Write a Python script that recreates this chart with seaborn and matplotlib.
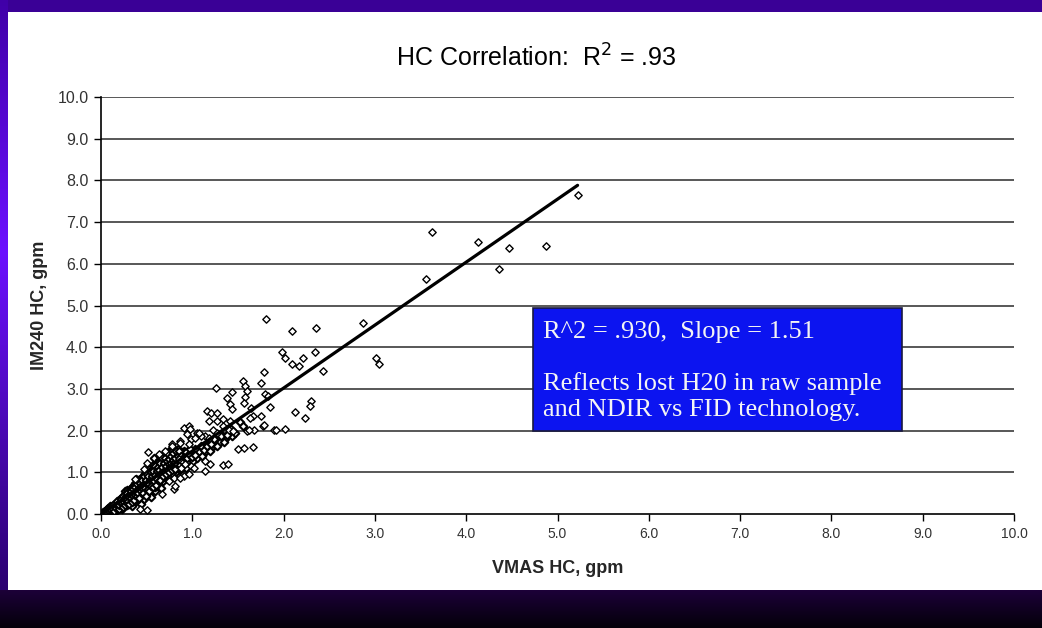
import numpy as np
import pandas as pd
import matplotlib.pyplot as plt
import seaborn as sns
from matplotlib.patches import Rectangle

# Data (VMAS HC, IM240 HC), gpm
core_points = [
    (0.02, 0.02), (0.03, 0.05), (0.04, 0.03), (0.05, 0.08), (0.06, 0.04), (0.07, 0.10), (0.08, 0.06),
    (0.09, 0.13), (0.10, 0.08), (0.05, 0.01), (0.08, 0.15), (0.10, 0.18),
    (0.11, 0.12), (0.12, 0.20), (0.13, 0.09), (0.14, 0.16), (0.15, 0.24), (0.15, 0.11), (0.16, 0.19),
    (0.17, 0.28), (0.18, 0.14), (0.18, 0.22), (0.19, 0.31), (0.20, 0.17), (0.20, 0.26), (0.12, 0.05), (0.16, 0.07),
    (0.21, 0.35), (0.22, 0.21), (0.22, 0.29), (0.23, 0.40), (0.24, 0.25), (0.24, 0.33), (0.25, 0.18),
    (0.25, 0.44), (0.26, 0.30), (0.27, 0.37), (0.27, 0.50), (0.28, 0.22), (0.28, 0.42), (0.29, 0.33),
    (0.30, 0.47), (0.30, 0.27), (0.23, 0.12), (0.26, 0.55), (0.29, 0.58),
    (0.31, 0.38), (0.32, 0.52), (0.32, 0.30), (0.33, 0.44), (0.33, 0.62), (0.34, 0.35), (0.35, 0.49),
    (0.35, 0.68), (0.36, 0.40), (0.36, 0.57), (0.37, 0.28), (0.37, 0.74), (0.38, 0.46), (0.38, 0.62),
    (0.39, 0.53), (0.39, 0.36), (0.40, 0.70), (0.40, 0.48), (0.34, 0.20), (0.38, 0.84),
    (0.41, 0.58), (0.41, 0.40), (0.42, 0.77), (0.42, 0.52), (0.43, 0.64), (0.43, 0.33), (0.44, 0.86),
    (0.44, 0.47), (0.45, 0.72), (0.45, 0.57), (0.46, 0.92), (0.46, 0.43), (0.47, 0.66), (0.47, 0.80),
    (0.48, 0.52), (0.48, 0.98), (0.49, 0.61), (0.49, 0.75), (0.50, 0.88), (0.50, 0.46), (0.44, 0.25), (0.47, 0.35),
    (0.51, 0.70), (0.51, 1.02), (0.52, 0.56), (0.52, 0.82), (0.53, 0.95), (0.53, 0.64), (0.54, 0.50),
    (0.54, 1.10), (0.55, 0.76), (0.55, 0.88), (0.56, 0.60), (0.56, 1.00), (0.57, 0.84), (0.57, 1.18),
    (0.58, 0.70), (0.58, 0.94), (0.59, 1.05), (0.59, 0.55), (0.60, 0.80), (0.60, 1.25), (0.55, 0.40), (0.58, 1.35),
    (0.61, 0.92), (0.61, 1.12), (0.62, 0.68), (0.62, 1.02), (0.63, 0.86), (0.63, 1.30), (0.64, 1.16),
    (0.64, 0.74), (0.65, 0.98), (0.65, 1.40), (0.66, 1.08), (0.66, 0.62), (0.67, 0.90), (0.67, 1.22),
    (0.68, 1.02), (0.68, 0.78), (0.69, 1.32), (0.69, 1.14), (0.70, 0.96), (0.70, 1.45),
    (0.71, 1.06), (0.71, 1.24), (0.72, 0.84), (0.72, 1.36), (0.73, 1.14), (0.73, 0.98), (0.74, 1.28),
    (0.74, 1.50), (0.75, 1.08), (0.75, 0.92), (0.76, 1.20), (0.76, 1.40), (0.77, 1.02), (0.77, 1.30),
    (0.78, 1.12), (0.78, 1.52), (0.79, 1.24), (0.79, 0.88), (0.80, 1.36), (0.80, 1.05),
    (0.81, 1.18), (0.82, 1.44), (0.82, 1.00), (0.83, 1.28), (0.84, 1.12), (0.84, 1.55), (0.85, 1.35),
    (0.86, 1.22), (0.87, 1.05), (0.87, 1.46), (0.88, 1.30), (0.89, 1.15), (0.90, 1.40), (0.90, 1.25),
    (0.91, 1.52), (0.92, 1.34), (0.93, 1.10), (0.94, 1.45), (0.95, 1.30), (0.96, 1.38), (0.97, 1.50),
    (0.98, 1.24), (1.00, 1.42), (1.02, 1.33), (1.04, 1.48), (1.06, 1.40), (1.08, 1.55), (1.10, 1.45),
    (1.12, 1.62), (1.15, 1.50), (1.18, 1.70), (1.20, 1.58), (1.22, 1.75), (1.25, 1.66), (1.28, 1.82),
    (1.30, 1.72), (1.33, 1.90), (1.36, 1.80), (1.40, 1.95), (1.44, 1.88),
]

core_points_2 = [
    (0.03, 0.02), (0.04, 0.07), (0.06, 0.09), (0.07, 0.05), (0.09, 0.10), (0.11, 0.16), (0.12, 0.10),
    (0.13, 0.19), (0.14, 0.12), (0.16, 0.23), (0.17, 0.15), (0.18, 0.27), (0.19, 0.19), (0.21, 0.24),
    (0.21, 0.30), (0.22, 0.16), (0.23, 0.33), (0.24, 0.20), (0.25, 0.37), (0.26, 0.24), (0.27, 0.31),
    (0.28, 0.45), (0.29, 0.27), (0.30, 0.38),
    (0.31, 0.43), (0.31, 0.56), (0.32, 0.35), (0.33, 0.50), (0.34, 0.42), (0.34, 0.60), (0.35, 0.32),
    (0.36, 0.48), (0.36, 0.66), (0.37, 0.52), (0.38, 0.38), (0.38, 0.70), (0.39, 0.60), (0.40, 0.44),
    (0.40, 0.78), (0.41, 0.66), (0.42, 0.45), (0.43, 0.70), (0.43, 0.56), (0.44, 0.80), (0.45, 0.50),
    (0.45, 0.64), (0.46, 0.76), (0.47, 0.58), (0.48, 0.86), (0.48, 0.68), (0.49, 0.52), (0.50, 0.80),
    (0.50, 0.66), (0.51, 0.95), (0.52, 0.74), (0.52, 0.60), (0.53, 0.86), (0.54, 0.70), (0.54, 0.98),
    (0.55, 0.82), (0.56, 0.68), (0.56, 1.08), (0.57, 0.76), (0.58, 0.88), (0.58, 1.12), (0.59, 0.64),
    (0.60, 0.96), (0.60, 1.08), (0.61, 0.76), (0.62, 1.20), (0.62, 0.94), (0.63, 1.06), (0.64, 0.84),
    (0.64, 1.26), (0.65, 0.90), (0.66, 1.16), (0.66, 1.30), (0.67, 1.00), (0.68, 1.12), (0.68, 1.40),
    (0.69, 0.88), (0.70, 1.06), (0.70, 1.24), (0.71, 1.38), (0.72, 1.00), (0.72, 1.18), (0.73, 1.30),
    (0.74, 0.94), (0.74, 1.16), (0.75, 1.42), (0.76, 1.06), (0.76, 1.28), (0.77, 1.48), (0.78, 1.20),
    (0.78, 0.98), (0.79, 1.36), (0.80, 1.15), (0.81, 1.46), (0.82, 1.24), (0.83, 1.10), (0.83, 1.38),
    (0.84, 1.30), (0.85, 1.20), (0.86, 1.42), (0.86, 1.10), (0.87, 1.34), (0.88, 1.20), (0.89, 1.48),
    (0.90, 1.32), (0.92, 1.40), (0.94, 1.24), (0.95, 1.52), (0.97, 1.36), (0.99, 1.46), (1.01, 1.28),
    (1.03, 1.56), (1.05, 1.34), (1.07, 1.48), (1.09, 1.62), (1.11, 1.38), (1.13, 1.54), (1.16, 1.64),
    (1.19, 1.52), (1.21, 1.68), (1.24, 1.80), (1.27, 1.62), (1.31, 1.86), (1.35, 1.72), (1.38, 1.90),
    (1.42, 2.04), (1.47, 1.94), (1.52, 2.20), (1.55, 2.10),
]

core_points_3 = [
    (0.01, 0.01), (0.02, 0.04), (0.04, 0.05), (0.06, 0.06), (0.07, 0.12), (0.08, 0.09), (0.10, 0.13),
    (0.11, 0.09), (0.12, 0.15), (0.13, 0.22), (0.14, 0.08), (0.15, 0.18), (0.16, 0.14), (0.17, 0.21),
    (0.18, 0.32), (0.19, 0.24), (0.20, 0.12), (0.20, 0.21), (0.21, 0.28), (0.22, 0.37), (0.23, 0.26),
    (0.24, 0.16), (0.24, 0.42), (0.25, 0.29), (0.26, 0.36), (0.26, 0.21), (0.27, 0.44), (0.28, 0.27),
    (0.28, 0.35), (0.29, 0.50), (0.30, 0.32), (0.30, 0.42), (0.31, 0.25), (0.32, 0.47), (0.33, 0.38),
    (0.33, 0.56), (0.34, 0.28), (0.35, 0.44), (0.35, 0.60), (0.36, 0.33), (0.37, 0.46), (0.37, 0.64),
    (0.38, 0.54), (0.39, 0.42), (0.39, 0.72), (0.40, 0.58), (0.41, 0.50), (0.41, 0.82), (0.42, 0.62),
    (0.42, 0.38), (0.43, 0.74), (0.44, 0.55), (0.44, 0.68), (0.45, 0.82), (0.46, 0.60), (0.46, 0.50),
    (0.47, 0.72), (0.47, 0.90), (0.48, 0.62), (0.49, 0.82), (0.49, 0.44), (0.50, 0.72), (0.50, 0.96),
    (0.51, 0.60), (0.52, 0.90), (0.53, 0.72), (0.53, 0.55), (0.54, 0.82), (0.55, 1.00), (0.55, 0.66),
    (0.56, 0.90), (0.57, 0.64), (0.57, 1.04), (0.58, 0.80), (0.59, 0.94), (0.59, 1.16), (0.60, 0.70),
    (0.61, 1.02), (0.61, 0.84), (0.62, 1.12), (0.63, 0.96), (0.63, 0.78), (0.64, 1.05), (0.65, 1.22),
    (0.65, 0.82), (0.66, 0.98), (0.67, 1.12), (0.67, 1.35), (0.68, 0.92), (0.69, 1.22), (0.69, 1.02),
    (0.70, 1.34), (0.71, 0.96), (0.71, 1.16), (0.72, 1.28), (0.73, 1.06), (0.73, 1.44), (0.74, 1.20),
    (0.75, 1.00), (0.75, 1.32), (0.76, 1.12), (0.77, 1.22), (0.77, 1.40), (0.78, 1.06), (0.79, 1.30),
    (0.79, 1.46), (0.80, 1.22), (0.81, 1.34), (0.81, 1.08), (0.82, 1.52), (0.83, 1.20), (0.84, 1.40),
    (0.85, 1.28), (0.85, 1.50), (0.86, 1.32), (0.87, 1.18), (0.88, 1.40), (0.89, 1.26), (0.91, 1.36),
    (0.93, 1.48), (0.94, 1.34), (0.96, 1.44), (0.98, 1.56), (1.00, 1.36), (1.03, 1.42),
]

spread_points = [
    (1.81, 4.67), (2.09, 4.39), (2.36, 4.45), (1.98, 3.88), (2.01, 3.75), (2.34, 3.88), (2.09, 3.59),
    (2.17, 3.54), (2.21, 3.73), (2.43, 3.42), (1.79, 3.40), (1.56, 3.18), (1.58, 3.06), (1.60, 2.94),
    (1.75, 3.13), (1.80, 2.87), (1.83, 2.82), (1.58, 2.80), (1.57, 2.65), (1.85, 2.56), (1.64, 2.53),
    (2.30, 2.70), (2.29, 2.58), (2.12, 2.44), (2.23, 2.31), (1.67, 2.36), (1.75, 2.36), (1.63, 2.31),
    (1.77, 2.12), (1.90, 2.02), (2.02, 2.05), (1.60, 1.98), (1.68, 2.02), (1.50, 1.57), (1.57, 1.59),
    (1.66, 1.61), (1.26, 3.01), (1.44, 2.92), (1.38, 2.77), (1.41, 2.63), (1.44, 2.51), (1.16, 2.46),
    (1.21, 2.43), (1.27, 2.43), (1.18, 2.24), (1.27, 2.24), (1.34, 2.27), (1.41, 2.24), (1.34, 2.10),
    (1.40, 2.02), (1.45, 2.00), (1.23, 2.02), (0.91, 2.07), (0.96, 2.10), (0.98, 2.05), (1.05, 1.95),
    (1.14, 1.88), (1.62, 2.02), (1.78, 2.14), (1.92, 2.02), (0.94, 1.93), (0.99, 1.81), (0.86, 1.76),
    (1.09, 1.86), (0.78, 1.69), (0.52, 1.49), (0.50, 1.23), (0.47, 1.08), (0.37, 0.84), (0.78, 1.64),
    (0.63, 1.45), (0.70, 1.52), (0.86, 1.71), (0.96, 1.69), (1.03, 1.83), (1.14, 1.28), (0.99, 1.16),
    (0.80, 0.87), (0.80, 0.60), (0.67, 0.48), (0.43, 0.12), (0.50, 0.10), (0.88, 1.11), (0.91, 0.92),
    (0.85, 1.33), (0.92, 1.20), (1.02, 1.11), (0.96, 0.96), (0.86, 0.87), (0.74, 0.80), (0.81, 0.67),
    (1.34, 1.18), (1.39, 1.20), (1.14, 1.04), (1.19, 1.20), (1.07, 1.95), (1.18, 1.83), (1.27, 1.95),
]

high_points = [
    (5.22, 7.64), (4.13, 6.53), (4.47, 6.39), (4.87, 6.43), (4.36, 5.88), (3.62, 6.77),
    (3.56, 5.64), (2.87, 4.58), (3.01, 3.73), (3.05, 3.59),
]

slope = 1.51
fit_x = [0.0, 5.22]
fit_y = [slope * v for v in fit_x]

ticks = [0.0, 1.0, 2.0, 3.0, 4.0, 5.0, 6.0, 7.0, 8.0, 9.0, 10.0]
title = "HC Correlation:  R$^{2}$ = .93"
note_line1 = "R^2 = .930,  Slope = 1.51"
note_line2 = "Reflects lost H20 in raw sample\nand NDIR vs FID technology."

core_df = pd.DataFrame(core_points + core_points_2 + core_points_3, columns=["vmas", "im240"])
outer_df = pd.DataFrame(spread_points + high_points, columns=["vmas", "im240"])

sns.set_theme(style="white")
plt.rcParams["font.family"] = ["Liberation Sans", "DejaVu Sans"]

W, H = 1042, 628
fig = plt.figure(figsize=(W / 100, H / 100), dpi=100)

# slide background: purple frame, white panel, dark band at the bottom
bg = np.ones((H, W, 3))
top = np.array([0x3a, 0x00, 0x96]) / 255
bg[:12, :] = top
rows = np.linspace(0, 1, H)[:, None]
left_top = np.array([0x40, 0x00, 0xa8]) / 255
left_mid = np.array([0x6c, 0x10, 0xff]) / 255
left_bot = np.array([0x24, 0x00, 0x60]) / 255
edge = np.where(rows < 0.4, left_top + (left_mid - left_top) * rows / 0.4,
                left_mid + (left_bot - left_mid) * (rows - 0.4) / 0.6)
bg[:, :8] = edge[:, None, :]
band = np.linspace(0, 1, H - 590)[:, None]
b_top = np.array([0x1c, 0x00, 0x38]) / 255
b_bot = np.array([0x04, 0x00, 0x0a]) / 255
bg[590:, :] = (b_top + (b_bot - b_top) * band)[:, None, :]
bg_ax = fig.add_axes([0, 0, 1, 1], zorder=-10)
bg_ax.imshow(bg, aspect="auto", interpolation="bilinear")
bg_ax.axis("off")

ax = fig.add_axes([101 / W, 1 - 514 / H, (1014 - 101) / W, (514 - 97) / H])
ax.set_facecolor("none")

# dense core: hundreds of overlapping diamonds read as a solid black band
sns.scatterplot(data=core_df, x="vmas", y="im240", ax=ax, marker="D", s=15,
                facecolor="white", edgecolor="black", linewidth=1.5, zorder=3, legend=False)
sns.scatterplot(data=outer_df, x="vmas", y="im240", ax=ax, marker="D", s=14,
                facecolor="white", edgecolor="black", linewidth=1.0, zorder=3, legend=False)
sns.lineplot(x=fit_x, y=fit_y, ax=ax, color="black", linewidth=2.3, zorder=4)

ax.set_xlim(0, 10)
ax.set_ylim(0, 10)
ax.set_xticks(ticks)
ax.set_yticks(ticks)
ax.set_xticklabels([f"{t:.1f}" for t in ticks], color="#333333", fontsize=10)
ax.set_yticklabels([f"{t:.1f}" for t in ticks], color="#333333", fontsize=11.5)
ax.tick_params(axis="both", direction="out", length=5, width=1, color="black", bottom=True, left=True, pad=4)
for t in ticks[1:]:
    ax.axhline(t, color="#4a4a4a", linewidth=1.3, zorder=1)
for side in ["top", "right"]:
    ax.spines[side].set_visible(False)
for side in ["left", "bottom"]:
    ax.spines[side].set_color("black")
    ax.spines[side].set_linewidth(1.2)

ax.set_xlabel("VMAS HC, gpm", fontsize=13, fontweight="bold", labelpad=14)
ax.set_ylabel("IM240 HC, gpm", fontsize=13, fontweight="bold", labelpad=7)

fig.text(536 / W, 1 - 58 / H, title, ha="center", va="center", fontsize=18, color="black")

# blue annotation box
ax.add_patch(Rectangle((4.73, 1.99), 4.04, 2.95, facecolor="#0c14f0", edgecolor="#1a1a40",
                       linewidth=1.2, zorder=5))
ax.text(4.84, 4.37, note_line1, ha="left", va="center", fontsize=19, color="#f4f4f4",
        family=["Liberation Serif", "DejaVu Serif"], zorder=6)
ax.text(4.84, 2.82, note_line2, ha="left", va="center", fontsize=19, color="#f4f4f4",
        family=["Liberation Serif", "DejaVu Serif"], linespacing=1.2, zorder=6)

fig.savefig("out.png", dpi=100)
